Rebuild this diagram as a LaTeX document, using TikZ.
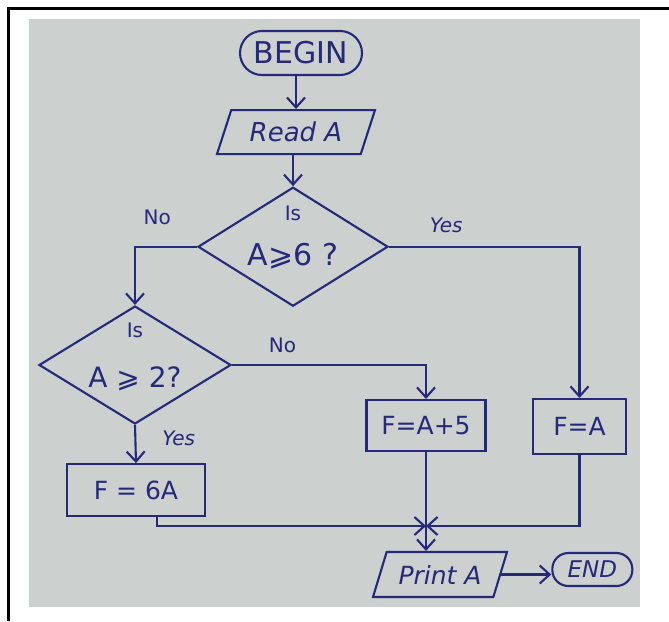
\documentclass[tikz,border=0pt]{standalone}
\usepackage{fontspec}
\setmainfont{DejaVu Sans}
\usepackage{xcolor}
\usepackage{tikz}
\usetikzlibrary{shapes.geometric, arrows.meta, positioning}
\definecolor{ink}{RGB}{38,40,122}
\definecolor{paper}{RGB}{204,208,207}
\tikzstyle{terminal} = [rectangle, rounded corners=22pt, minimum width=122pt, minimum height=44pt, text centered, draw=ink, text=ink, line width=2.1pt, font=\fontsize{30}{34}\selectfont]
\tikzstyle{io} = [trapezium, trapezium left angle=62, trapezium right angle=118, trapezium stretches body, minimum height=44pt, text centered, draw=ink, text=ink, line width=2.1pt, font=\itshape\fontsize{26}{30}\selectfont]
\tikzstyle{decision} = [diamond, aspect=1.6, inner sep=-8pt, align=center, draw=ink, text=ink, line width=2.1pt]
\tikzstyle{process} = [rectangle, minimum height=52pt, text centered, draw=ink, text=ink, line width=2.1pt, font=\fontsize{25}{29}\selectfont]
\tikzstyle{answer} = [inner sep=0pt, text=ink, font=\fontsize{20}{24}\selectfont]
\tikzstyle{wire} = [draw=ink, line width=2.1pt]
\tikzstyle{arrow} = [wire, ->, >={Straight Barb[length=10pt, width=18pt]}]

\begin{document}
\begin{tikzpicture}[x=1pt, y=-1pt]
    \useasboundingbox (0,0) rectangle (669,621);
    \fill [white] (0,0) rectangle (669,621);
    \fill [paper] (29,19) rectangle (640,607);
    \draw [line width=3pt] (7,8) -- (669,8);
    \draw [line width=3pt] (8.5,6.5) -- (8.5,621);

    \node (begin) [terminal] at (301,53) {BEGIN};
    \node (read) [io, minimum width=158pt, below=33pt of begin, xshift=-5pt] {Read A};
    \node (d1) [decision, minimum width=190pt, minimum height=119pt, font=\fontsize{30}{36}\selectfont, below=31pt of read, xshift=-3pt] {{\fontsize{20}{24}\selectfont Is}\\[9pt]A⩾6 ?\\[-14pt]\mbox{}};
    \node (d2) [decision, minimum width=192pt, minimum height=118pt, font=\fontsize{28}{34}\selectfont] at (135,365) {{\fontsize{20}{24}\selectfont Is}\\[16pt]A ⩾ 2?\\[-15pt]\mbox{}};
    \node (f6a) [process, minimum width=138pt, below=38pt of d2, xshift=1pt] {F = 6A};
    \node (fa5) [process, minimum width=119pt, minimum height=51pt] at (426,425.5) {F=A+5};
    \node (fa) [process, minimum width=93pt, minimum height=55pt] at (579.5,426.5) {F=A};
    \node (print) [io, minimum width=134pt, minimum height=45pt, font=\itshape\fontsize{25}{29}\selectfont] at (440,574.5) {Print A};
    \node (end) [terminal, minimum width=80pt, minimum height=33pt, rounded corners=16pt, font=\itshape\fontsize{23}{27}\selectfont, right=50pt of print, yshift=5pt] {END};
    \coordinate (merge) at (426,526);

    \draw [arrow] (read.north |- begin.south) -- (read.north);
    \draw [arrow] (d1.north |- read.south) -- (d1.north);
    \draw [arrow] (d1.west) -| node [answer, pos=0.32, above=21pt] (no1) {No} (d2.north);
    \draw [arrow] (d1.east) -| node [answer, pos=0.15, above=13pt] (yes1) {\itshape Yes} (fa.north);
    \draw [arrow] (d2.east) -| node [answer, pos=0.13, above=11pt] (no2) {No} (fa5.north);
    \draw [arrow] (d2.south) -- node [answer, pos=0.35, right=26pt] (yes2) {\itshape Yes} (f6a.north);
    \draw [arrow] ([xshift=21pt]f6a.south) |- (merge);
    \draw [arrow] (fa.south) |- (merge);
    \draw [wire] (fa5.south) -- (merge);
    \draw [arrow] (merge) -- (merge |- print.north);
    \draw [arrow] (print.east) -- (print.east -| end.west);
\end{tikzpicture}
\end{document}
